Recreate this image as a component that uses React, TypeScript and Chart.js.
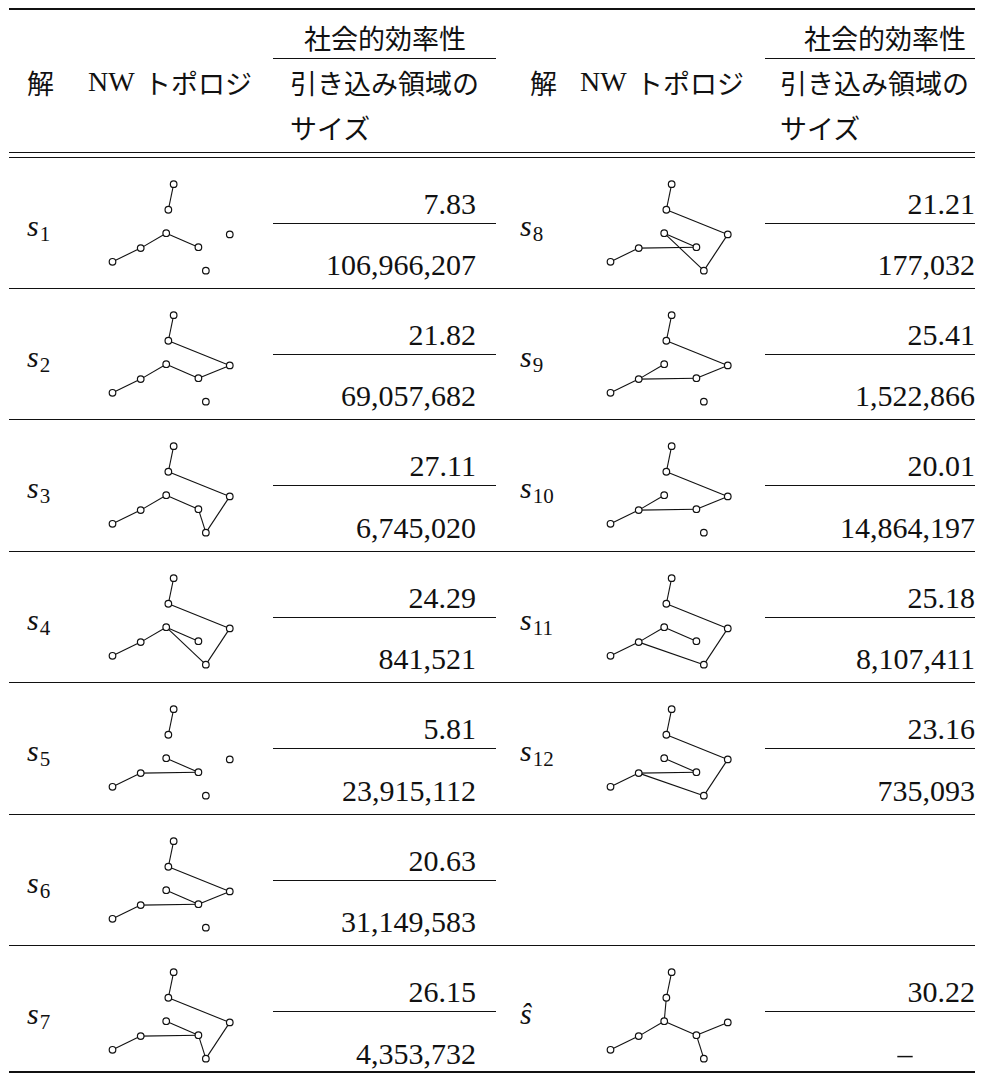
import React, { useEffect, useRef } from "react";
import { Chart, registerables } from "chart.js";

Chart.register(...registerables);

// ---------- data ----------
const SOLUTION_SUBSCRIPTS = ["1", "2", "3", "4", "5", "6", "7", "8", "9", "10", "11", "12", "hat"];
const SOCIAL_EFFICIENCY = [7.83, 21.82, 27.11, 24.29, 5.81, 20.63, 26.15, 21.21, 25.41, 20.01, 25.18, 23.16, 30.22];
const BASIN_SIZE: (number | null)[] = [
  106966207, 69057682, 6745020, 841521, 23915112, 31149583, 4353732,
  177032, 1522866, 14864197, 8107411, 735093, null,
];
// network layout (abstract units) of the 8 nodes A..H
const NODE_IDS = ["A", "B", "C", "D", "E", "F", "G", "H"];
const NODE_X = [65.7, 60, 57.7, 30.3, 0, 92.3, 126, 100.3];
const NODE_Y = [94.7, 66.7, 41, 24.7, 9.7, 25.7, 39.7, 0];
// edges of each solution's topology
const TOPOLOGY_EDGES = [
  "AB ED DC CF",
  "AB BG ED DC CF FG",
  "AB BG ED DC CF FH HG",
  "AB BG GH HC CF CD DE",
  "AB CF DF ED",
  "AB BG GF CF DF DE",
  "AB BG GH HF CF DF DE",
  "AB BG GH HC CF DF DE",
  "AB BG GF FD DC DE",
  "AB BG GF FD DC DE",
  "AB BG GH HD DC CF DE",
  "AB BG GH HD DF CF DE",
  "AB BC CD DE CF FG FH",
];
const HEADER_EFFICIENCY = "社会的効率性";
const HEADER_SOLUTION = "解";
const HEADER_TOPOLOGY_LATIN = "NW";
const HEADER_TOPOLOGY_KANA = "トポロジ";
const HEADER_BASIN_1 = "引き込み領域の";
const HEADER_BASIN_2 = "サイズ";

// ---------- layout ----------
const W = 982;
const FONT = '"Liberation Serif", "Noto Sans CJK JP", serif';
const JP = '"Noto Sans CJK JP", sans-serif';
const FS = 30;
const JFS = 27;
// [half, row] of each solution
const SLOTS: [number, number][] = [
  [0, 0], [0, 1], [0, 2], [0, 3], [0, 4], [0, 5], [0, 6],
  [1, 0], [1, 1], [1, 2], [1, 3], [1, 4], [1, 6],
];
const rowTop = (r: number) => (r === 0 ? 157 : 288 + 131.5 * (r - 1));
const HALF = [
  { label: 27, topo: 98, fracL: 273, fracR: 496, numR: 476, hdrSol: 27, hdrTopo: 88, hdrText: 290, hdrEffC: 385 },
  { label: 520, topo: 596, fracL: 765, fracR: 975, numR: 975, hdrSol: 530, hdrTopo: 580, hdrText: 780, hdrEffC: 885 },
];

function Topology({ edges, left, top }: { edges: string; left: number; top: number }) {
  const ref = useRef<HTMLCanvasElement>(null);
  useEffect(() => {
    const idx = (c: string) => NODE_IDS.indexOf(c);
    const datasets: any[] = edges.split(" ").map((e) => {
      const a = idx(e[0]);
      const b = idx(e[1]);
      return {
        data: [
          { x: NODE_X[a], y: NODE_Y[a] },
          { x: NODE_X[b], y: NODE_Y[b] },
        ],
        showLine: true,
        borderColor: "#111",
        borderWidth: 1.1,
        pointRadius: 0,
        order: 2,
      };
    });
    datasets.push({
      data: NODE_X.map((x, i) => ({ x, y: NODE_Y[i] })),
      pointRadius: 3.3,
      pointBackgroundColor: "#fff",
      pointBorderColor: "#111",
      pointBorderWidth: 1.2,
      showLine: false,
      order: 1,
    });
    const chart = new Chart(ref.current!, {
      type: "scatter",
      data: { datasets },
      options: {
        animation: false,
        responsive: false,
        events: [],
        layout: { padding: 0 },
        plugins: { legend: { display: false }, tooltip: { enabled: false } },
        scales: {
          x: { type: "linear", min: -10, max: 140, display: false },
          y: { type: "linear", min: -10, max: 110, display: false },
        },
      },
    });
    return () => chart.destroy();
  }, [edges]);
  return (
    <canvas
      ref={ref}
      width={150}
      height={120}
      style={{ position: "absolute", left, top, width: 150, height: 120 }}
    />
  );
}

function Txt({ x, y, children, align = "left", size = FS, family = FONT }: any) {
  const base: React.CSSProperties = {
    position: "absolute",
    top: y - size / 2,
    fontSize: size,
    lineHeight: `${size}px`,
    fontFamily: family,
    whiteSpace: "nowrap",
    color: "#111",
  };
  if (align === "right") return <div style={{ ...base, right: W - x, textAlign: "right" }}>{children}</div>;
  if (align === "center") return <div style={{ ...base, left: x - 200, width: 400, textAlign: "center" }}>{children}</div>;
  return <div style={{ ...base, left: x }}>{children}</div>;
}

function Rule({ y, x1 = 9, x2 = 975, h = 1 }: any) {
  return <div style={{ position: "absolute", left: x1, top: y, width: x2 - x1, height: h, background: "#111" }} />;
}

export default function App() {
  useEffect(() => {
    document.body.style.margin = "0";
    document.body.style.background = "#fff";
  }, []);
  const rules = [];
  for (let k = 0; k < 6; k++) rules.push(<Rule key={"r" + k} y={288 + 131.5 * k - 0.5} />);

  return (
    <div style={{ position: "relative", width: W, height: 1074, background: "#fff", overflow: "hidden" }}>
      {/* header */}
      <Rule y={8} h={2} />
      {HALF.map((h, i) => (
        <React.Fragment key={"h" + i}>
          <Txt x={h.hdrEffC} y={37} align="center" size={JFS} family={JP}>{HEADER_EFFICIENCY}</Txt>
          <Rule y={58} x1={h.fracL} x2={h.fracR} />
          <Txt x={h.hdrSol} y={82} size={JFS} family={JP}>{HEADER_SOLUTION}</Txt>
          <Txt x={h.hdrTopo} y={82} size={28}>{HEADER_TOPOLOGY_LATIN}</Txt>
          <Txt x={h.hdrTopo + 56} y={82} size={JFS} family={JP}>{HEADER_TOPOLOGY_KANA}</Txt>
          <Txt x={h.hdrText} y={82} size={JFS} family={JP}>{HEADER_BASIN_1}</Txt>
          <Txt x={h.hdrText} y={127} size={JFS} family={JP}>{HEADER_BASIN_2}</Txt>
        </React.Fragment>
      ))}
      <Rule y={151.5} />
      <Rule y={156.5} />
      {rules}
      <Rule y={1071} h={2} />
      {SOLUTION_SUBSCRIPTS.map((sub, i) => {
        const [half, row] = SLOTS[i];
        const h = HALF[half];
        const T = rowTop(row);
        const basin = BASIN_SIZE[i];
        const baseline = T + 79;
        return (
          <React.Fragment key={"s" + i}>
            <div
              style={{
                position: "absolute",
                left: h.label,
                top: baseline - 0.8375 * 30,
                fontSize: 30,
                lineHeight: "30px",
                fontFamily: FONT,
                color: "#111",
                whiteSpace: "nowrap",
              }}
            >
              {sub === "hat" ? (
                <i>ŝ</i>
              ) : (
                <>
                  <i>s</i>
                  <span style={{ fontSize: 21, position: "relative", top: 5, marginLeft: 1 }}>{sub}</span>
                </>
              )}
            </div>
            <Topology edges={TOPOLOGY_EDGES[i]} left={h.topo} top={T + 7.7} />
            <Txt x={h.numR} y={T + 46.5} align="right">
              {SOCIAL_EFFICIENCY[i].toFixed(2)}
            </Txt>
            <Rule y={T + 65.5} x1={h.fracL} x2={h.fracR} />
            {basin === null ? (
              <Txt x={905} y={T + 108} align="center">–</Txt>
            ) : (
              <Txt x={h.numR} y={T + 108} align="right">
                {basin.toLocaleString("en-US")}
              </Txt>
            )}
          </React.Fragment>
        );
      })}
    </div>
  );
}
